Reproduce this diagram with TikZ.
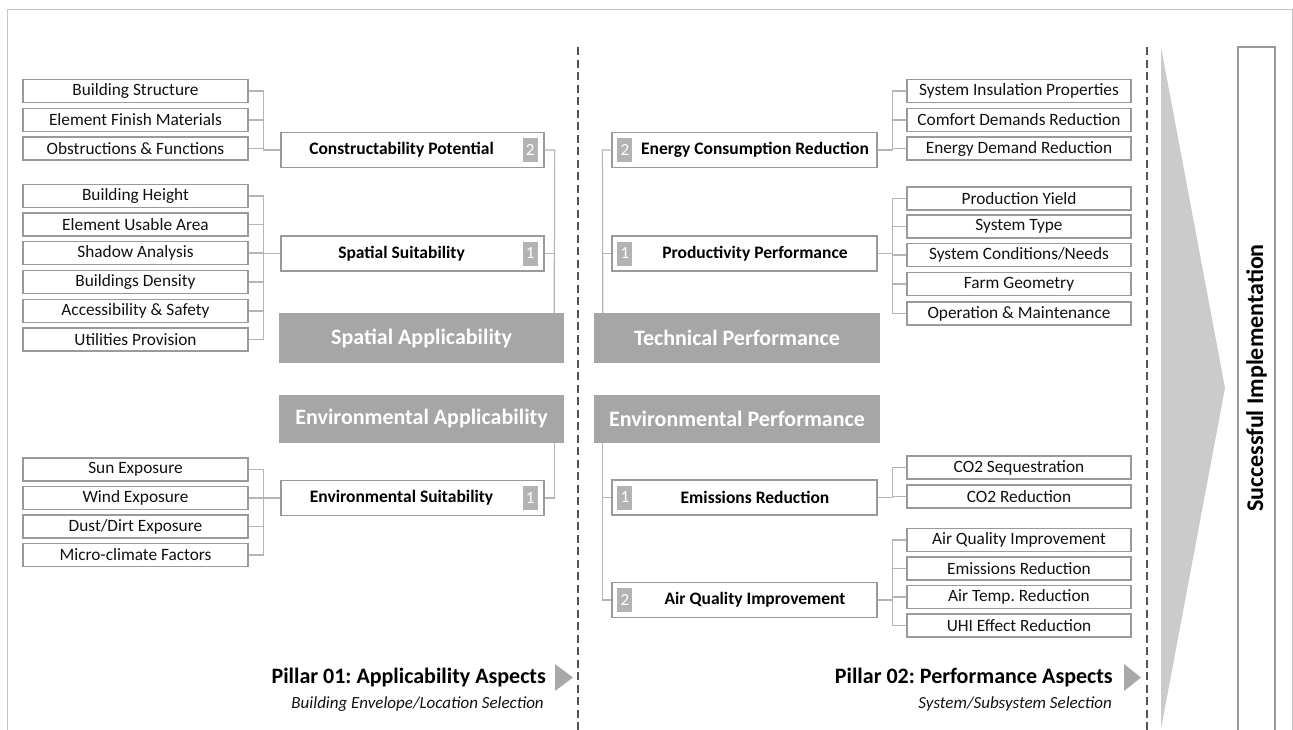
\documentclass[tikz,border=0pt]{standalone}
\usepackage{fontspec}
\setmainfont{Carlito}
\usetikzlibrary{calc}
\definecolor{boxc}{HTML}{9A9A9A}
\definecolor{connc}{HTML}{B4B4B4}
\definecolor{greyfill}{HTML}{A6A6A6}
\definecolor{numfill}{HTML}{B3B3B3}
\definecolor{bigtric}{HTML}{CBCBCB}
\definecolor{dashc}{HTML}{555555}
\definecolor{framec}{HTML}{C4C4C4}
\definecolor{tric}{HTML}{A8A8A8}
\definecolor{txt}{HTML}{111111}
\frenchspacing
\begin{document}
\begin{tikzpicture}[x=1pt,y=-1pt,
  leaf/.style={draw=boxc, line width=1.3pt, minimum width=224pt, minimum height=23pt, inner sep=0pt, font=\fontsize{17.3}{19}\selectfont, text=txt},
  parent/.style={draw=boxc, line width=1.3pt, minimum height=35pt, inner sep=0pt, font=\fontsize{17.5}{19}\selectfont\bfseries, text=black},
  numbox/.style={fill=numfill, minimum width=15pt, minimum height=24pt, inner sep=0pt, font=\fontsize{17}{19}\selectfont, text=white},
  greybox/.style={fill=greyfill, minimum height=50pt, inner sep=0pt, font=\fontsize{22}{24}\selectfont\bfseries, text=white},
  conn/.style={draw=connc, line width=1.2pt},
  dashline/.style={draw=dashc, line width=1.8pt, dash pattern=on 8pt off 4.5pt},
  pillar/.style={font=\fontsize{22}{24}\selectfont\bfseries, text=black, inner sep=0pt, anchor=east},
  subt/.style={font=\fontsize{17}{19}\selectfont\itshape, text=txt, inner sep=0pt, anchor=east}
]
\useasboundingbox (0,0) rectangle (1293,729);
\clip (0,0) rectangle (1293,729);

% frame
\draw[framec, line width=1pt] (7,760) -- (7,9) -- (1292,9) -- (1292,760);

% dashed separators
\draw[dashline] (578,47) -- (578,735);
\draw[dashline] (1147,47) -- (1147,735);

% big arrow and final box
\fill[bigtric] (1161,47) -- (1225,388) -- (1161,729) -- cycle;
\draw[boxc, line width=1.3pt] (1238,760) -- (1238,47) -- (1275,47) -- (1275,760);
\node[rotate=90, font=\fontsize{24}{26}\selectfont\bfseries, text=black] (si) at (1256.5,378) {Successful Implementation};

% ---------- Pillar 01 ----------
\node[greybox, minimum width=285pt] (sap) at (421.5,338) {Spatial Applicability};
\node[greybox, minimum width=285pt, minimum height=48pt] (eap) at (421.5,419) {Environmental Applicability};

\node[parent, minimum width=263pt] (cp) at (412.5,150) {\hbox to 263pt{\hfil Constructability Potential\hfil\hbox to 22pt{}}};
\node[parent, minimum width=263pt] (ss) at (412.5,253.5) {\hbox to 263pt{\hfil Spatial Suitability\hfil\hbox to 22pt{}}};
\node[parent, minimum width=263pt] (es) at (412.5,498) {\hbox to 263pt{\hfil Environmental Suitability\hfil\hbox to 22pt{}}};
\node[numbox] (cpn) at ($(cp.east)+(-14.5,0)$) {2};
\node[numbox] (ssn) at ($(ss.east)+(-14.5,0)$) {1};
\node[numbox] (esn) at ($(es.east)+(-14.5,0)$) {1};

\node[leaf, minimum width=225pt] (bs) at (135.5,91) {Building Structure};
\node[leaf, minimum width=225pt] (efm) at (135.5,120) {Element Finish Materials};
\node[leaf, minimum width=225pt] (of) at (135.5,148.5) {Obstructions \& Functions};
\node[leaf, minimum width=225pt] (bh) at (135.5,196) {Building Height};
\node[leaf, minimum width=225pt] (eua) at (135.5,224.5) {Element Usable Area};
\node[leaf, minimum width=225pt] (sha) at (135.5,253) {Shadow Analysis};
\node[leaf, minimum width=225pt] (bd) at (135.5,282) {Buildings Density};
\node[leaf, minimum width=225pt] (acs) at (135.5,311) {Accessibility \& Safety};
\node[leaf, minimum width=225pt] (up) at (135.5,339.5) {Utilities Provision};
\node[leaf, minimum width=225pt] (sune) at (135.5,469.5) {Sun Exposure};
\node[leaf, minimum width=225pt] (wine) at (135.5,498) {Wind Exposure};
\node[leaf, minimum width=225pt] (dde) at (135.5,526.5) {Dust/Dirt Exposure};
\node[leaf, minimum width=225pt] (mcf) at (135.5,555) {Micro-climate Factors};

\foreach \n in {bs,efm,of} \draw[conn] (\n.east) -- ++(15,0) |- (cp.west);
\foreach \n in {bh,eua,sha,bd,acs,up} \draw[conn] (\n.east) -- ++(15,0) |- (ss.west);
\foreach \n in {sune,wine,dde,mcf} \draw[conn] (\n.east) -- ++(15,0) |- (es.west);

\draw[conn] (cp.east) -- ++(10,0) -- ($(sap.north east)+(-10,0)$);
\draw[conn] (ss.east) -- ++(10,0);
\draw[conn] ($(eap.south east)+(-10,0)$) |- (es.east);

\node[pillar] (p1) at (546,677) {Pillar 01: Applicability Aspects};
\node[subt] (p1s) at (544,704) {Building Envelope/Location Selection};
\fill[tric] (555,664) -- (573,677.5) -- (555,691) -- cycle;

% ---------- Pillar 02 ----------
\node[greybox, minimum width=286pt] (tp) at (737,338) {Technical Performance};
\node[greybox, minimum width=286pt, minimum height=48pt] (ep) at (737,419) {Environmental Performance};

\node[parent, minimum width=265pt] (ecr) at (744.5,150) {\hbox to 265pt{\hbox to 21pt{}\hfil Energy Consumption Reduction\hfil}};
\node[parent, minimum width=265pt] (pp) at (744.5,253.5) {\hbox to 265pt{\hbox to 21pt{}\hfil Productivity Performance\hfil}};
\node[parent, minimum width=265pt] (er) at (744.5,497.5) {\hbox to 265pt{\hbox to 21pt{}\hfil Emissions Reduction\hfil}};
\node[parent, minimum width=265pt] (aqi) at (744.5,600) {\hbox to 265pt{\hbox to 21pt{}\hfil Air Quality Improvement\hfil}};
\node[numbox] (ecrn) at ($(ecr.west)+(13.5,0)$) {2};
\node[numbox] (ppn) at ($(pp.west)+(13.5,0)$) {1};
\node[numbox] (ern) at ($(er.west)+(13.5,0)$) {1};
\node[numbox] (aqin) at ($(aqi.west)+(13.5,0)$) {2};

\node[leaf] (sip) at (1019,91) {System Insulation Properties};
\node[leaf] (cdr) at (1019,120) {Comfort Demands Reduction};
\node[leaf] (edr) at (1019,148.5) {Energy Demand Reduction};
\node[leaf] (py) at (1019,198.5) {Production Yield};
\node[leaf] (sty) at (1019,226.5) {System Type};
\node[leaf] (scn) at (1019,255) {System Conditions/Needs};
\node[leaf] (fg) at (1019,284) {Farm Geometry};
\node[leaf] (om) at (1019,313.5) {Operation \& Maintenance};
\node[leaf] (co2s) at (1019,467.5) {CO2 Sequestration};
\node[leaf] (co2r) at (1019,496.5) {CO2 Reduction};
\node[leaf] (aq) at (1019,540) {Air Quality Improvement};
\node[leaf] (emr) at (1019,568.5) {Emissions Reduction};
\node[leaf] (atr) at (1019,597) {Air Temp. Reduction};
\node[leaf] (uhi) at (1019,625.5) {UHI Effect Reduction};

\foreach \n in {sip,cdr,edr} \draw[conn] (ecr.east) -- ++(15,0) |- (\n.west);
\foreach \n in {py,sty,scn,fg,om} \draw[conn] (pp.east) -- ++(15,0) |- (\n.west);
\foreach \n in {co2s,co2r} \draw[conn] (er.east) -- ++(15,0) |- (\n.west);
\foreach \n in {aq,emr,atr,uhi} \draw[conn] (aqi.east) -- ++(15,0) |- (\n.west);

\draw[conn] (ecr.west) -- ++(-9,0) -- ($(tp.north west)+(9,0)$);
\draw[conn] (pp.west) -- ++(-9,0);
\draw[conn] ($(ep.south west)+(9,0)$) |- (aqi.west);
\draw[conn] (er.west) -- ++(-9,0);

\node[pillar] (p2) at (1113,677) {Pillar 02: Performance Aspects};
\node[subt] (p2s) at (1112,704) {System/Subsystem Selection};
\fill[tric] (1124,664) -- (1141,677.5) -- (1124,691) -- cycle;
\end{tikzpicture}
\end{document}
